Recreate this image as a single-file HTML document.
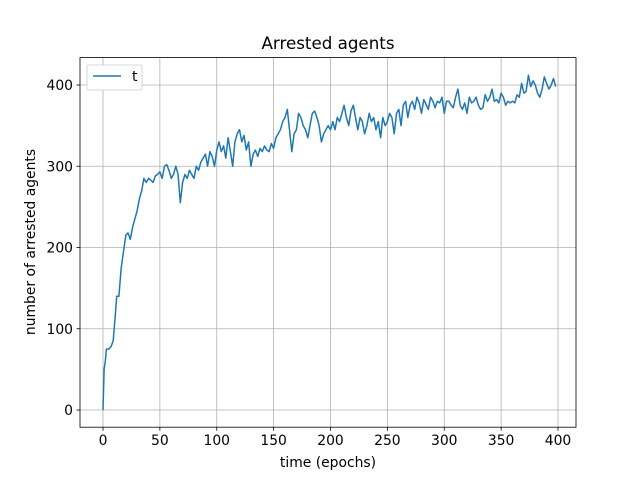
<!DOCTYPE html>
<html><head><meta charset="utf-8"><style>
body{margin:0;background:#fff;}
svg{display:block;font-family:"DejaVu Sans","Liberation Sans",sans-serif;}
</style></head><body>
<svg id="chart" width="640" height="480">
<rect width="640" height="480" fill="#fff"/>
<g id="grid"></g>
<path id="line" fill="none" stroke="#1f77b4" stroke-width="1.5" stroke-linejoin="round"/>
<rect x="80" y="57.6" width="496" height="369.6" fill="none" stroke="#000" stroke-width="0.8"/>
<g id="ticks"></g>
<text x="328" y="49" font-size="16.7" text-anchor="middle">Arrested agents</text>
<text x="328" y="467" font-size="13.9" text-anchor="middle">time (epochs)</text>
<text transform="translate(35,242) rotate(-90)" font-size="13.9" text-anchor="middle">number of arrested agents</text>
<g>
<rect x="87" y="65" width="55" height="25" rx="2" fill="#fff" stroke="#ccc" stroke-width="0.8"/>
<line x1="93" y1="76" x2="121" y2="76" stroke="#1f77b4" stroke-width="1.5"/>
<text x="132" y="81" font-size="13.9">t</text>
</g>
</svg>
<script>
const xs=[0,1,2,3,5,7,9,11,12,14,16,18,20,22,24,26,28,30,32,34,36,38,40,42,44,46,48,50,52,54,56,58,60,62,64,66,68,70,72,74,76,78,80,82,84,86,88,90,92,94,96,98,100,102,104,106,108,110,112,114,116,118,120,122,124,126,128,130,132,134,136,138,140,142,144,146,148,150,152,154,156,158,160,162,164,166,168,170,172,174,176,178,180,182,184,186,188,190,192,194,196,198,200,202,204,206,208,210,212,214,216,218,220,222,224,226,228,230,232,234,236,238,240,242,244,246,248,250,252,254,256,258,260,262,264,266,268,270,272,274,276,278,280,282,284,286,288,290,292,294,296,298,300,302,304,306,308,310,312,314,316,318,320,322,324,326,328,330,332,334,336,338,340,342,344,346,348,350,352,354,356,358,360,362,364,366,368,370,372,374,376,378,380,382,384,386,388,390,392,394,396,398];
const ys=[0,50,60,75,75,78,85,120,140,140,175,195,215,218,210,225,235,245,260,270,285,280,285,283,280,288,290,293,285,300,302,295,285,290,300,290,255,280,290,285,295,290,285,300,295,305,310,315,300,318,312,300,320,330,318,325,310,335,318,300,330,340,345,330,338,320,330,300,315,320,312,322,318,325,320,318,328,322,335,340,345,355,360,370,345,318,340,345,365,360,350,345,335,350,365,368,360,350,330,340,345,350,345,355,345,360,355,365,375,360,350,368,375,360,345,360,355,340,350,365,355,360,345,355,335,360,350,355,365,360,340,365,370,350,375,380,360,375,380,370,385,378,365,382,376,370,385,380,372,380,378,385,365,380,380,375,372,385,395,375,370,378,365,385,378,380,385,375,370,372,388,380,385,395,380,382,378,390,385,375,380,378,380,378,388,385,402,390,392,412,398,405,400,390,385,395,410,402,395,400,408,398];
const xTicks=[0,50,100,150,200,250,300,350,400];
const yTicks=[0,100,200,300,400];
const X=v=>103+v*1.1375, Y=v=>410-v*0.8125;
const ns='http://www.w3.org/2000/svg';
const grid=document.getElementById('grid'), ticks=document.getElementById('ticks');
function mk(tag,attrs,parent){const e=document.createElementNS(ns,tag);for(const k in attrs)e.setAttribute(k,attrs[k]);parent.appendChild(e);return e;}
xTicks.forEach(t=>{
 const g=mk('line',{x1:X(t),x2:X(t),y1:57.6,y2:427.2,stroke:'#b0b0b0','stroke-width':0.8},grid);
 
 
 mk('line',{x1:X(t),x2:X(t),y1:427.2,y2:430.7,stroke:'#000','stroke-width':0.8},ticks);
 const tx=mk('text',{x:X(t),y:445,'font-size':13.9,'text-anchor':'middle'},ticks);
 tx.textContent=t;
 
 
});
yTicks.forEach(t=>{
 const g=mk('line',{x1:80,x2:576,y1:Y(t),y2:Y(t),stroke:'#b0b0b0','stroke-width':0.8},grid);
 
 
 mk('line',{x1:76.5,x2:80,y1:Y(t),y2:Y(t),stroke:'#000','stroke-width':0.8},ticks);
 const tx=mk('text',{x:73,y:Y(t)+5,'font-size':13.9,'text-anchor':'end'},ticks);
 tx.textContent=t;
 
 
});
document.getElementById('line').setAttribute('d',xs.map((x,i)=>(i?'L':'M')+X(x).toFixed(1)+','+Y(ys[i]).toFixed(1)).join(''));
</script>
</body></html>
